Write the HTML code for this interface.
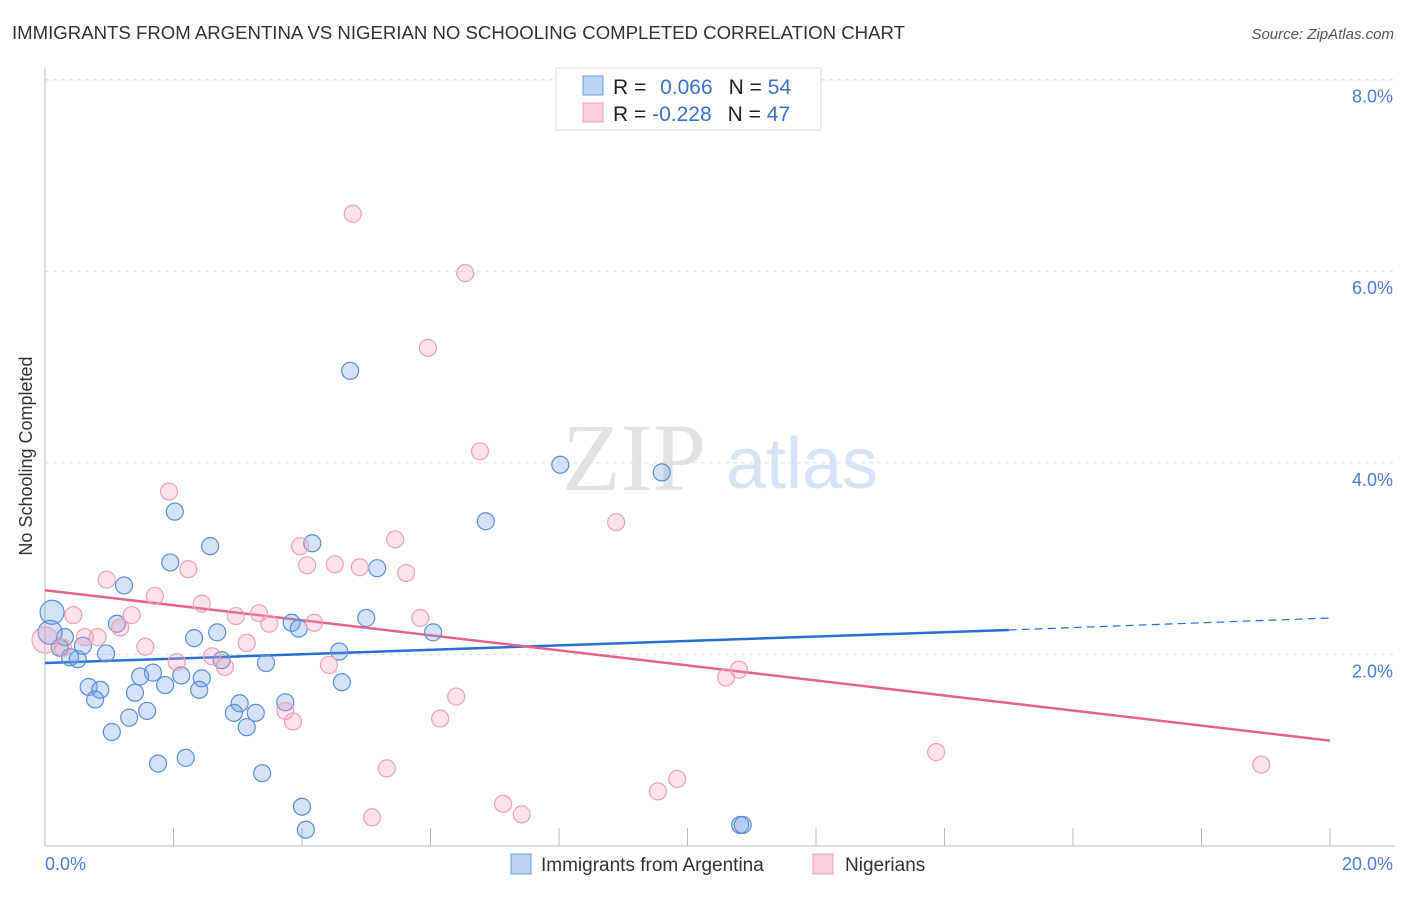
<!DOCTYPE html>
<html><head><meta charset="utf-8"><style>
body{margin:0;background:#fff;font-family:"Liberation Sans",sans-serif}
</style></head><body>
<svg width="1406" height="892" xmlns="http://www.w3.org/2000/svg" font-family="Liberation Sans, sans-serif">
<text x="12" y="39" font-size="18.6" fill="#333">IMMIGRANTS FROM ARGENTINA VS NIGERIAN NO SCHOOLING COMPLETED CORRELATION CHART</text>
<text x="1394" y="39" font-size="15" fill="#555" font-style="italic" text-anchor="end">Source: ZipAtlas.com</text>
<g>
<text x="634" y="490" font-size="96" fill="#e2e2e2" font-family="Liberation Serif, serif" text-anchor="middle">ZIP</text>
<text x="802" y="488" font-size="72" fill="#d6e4f5" text-anchor="middle">atlas</text>
</g>
<g id="grid"></g>
<g id="axes"></g>
<g id="lines"></g>
<g id="pts"></g>
<text x="32" y="456" font-size="18" fill="#333" text-anchor="middle" transform="rotate(-90 32 456)">No Schooling Completed</text>
<text x="45" y="870" font-size="18" fill="#4a7fd4">0.0%</text>
<text x="1393" y="870" font-size="18" fill="#4a7fd4" text-anchor="end">20.0%</text>
<g>
<rect x="556" y="68" width="265" height="62" fill="#fff" stroke="#ddd"/>
<rect x="583" y="76" width="20" height="19" fill="#bcd4f5" stroke="#6e9ce0"/>
<rect x="583" y="103" width="20" height="19" fill="#fbd0dc" stroke="#eea0b8"/>
<text x="613" y="94" font-size="21" fill="#222">R = <tspan fill="#3a72d0" dx="8">0.066</tspan><tspan dx="16" fill="#222">N = </tspan><tspan fill="#3a72d0">54</tspan></text>
<text x="613" y="121" font-size="21" fill="#222">R = <tspan fill="#3a72d0">-0.228</tspan><tspan dx="16" fill="#222">N = </tspan><tspan fill="#3a72d0">47</tspan></text>
</g>
<g>
<rect x="511" y="854" width="20" height="20" fill="#bcd4f5" stroke="#6e9ce0"/>
<text x="541" y="871" font-size="19" fill="#333">Immigrants from Argentina</text>
<rect x="813" y="854" width="20" height="20" fill="#fbd0dc" stroke="#eea0b8"/>
<text x="845" y="871" font-size="19" fill="#333">Nigerians</text>
</g>
</svg>
<script>
const yTicks=[2,4,6,8];
const yTickLabels=["2.0%","4.0%","6.0%","8.0%"];
const xTickVals=[0,2,4,6,8,10,12,14,16,18,20];
const blueX=[0.11,0.08,0.31,0.23,0.39,0.51,0.59,0.95,0.68,0.86,0.78,1.04,1.23,1.12,1.40,1.31,1.48,1.68,1.59,1.87,1.76,2.19,2.02,1.95,2.57,2.32,2.44,2.40,2.12,2.68,2.75,3.03,2.94,3.14,3.28,3.38,3.44,3.74,3.84,3.95,4.16,4.00,4.06,4.58,4.62,4.75,5.00,5.17,6.04,6.86,8.02,9.60,10.82,10.86];
const blueY=[2.44,2.23,2.18,2.07,1.97,1.95,2.09,2.01,1.66,1.63,1.53,1.19,2.72,2.32,1.60,1.34,1.77,1.81,1.41,1.68,0.86,0.92,3.49,2.96,3.13,2.17,1.75,1.63,1.78,2.23,1.94,1.49,1.39,1.24,1.39,0.76,1.91,1.50,2.33,2.27,3.16,0.41,0.17,2.03,1.71,4.96,2.38,2.90,2.23,3.39,3.98,3.90,0.22,0.22];
const pinkX=[0.0,0.44,0.28,0.62,0.82,0.96,1.17,1.35,1.56,1.71,1.93,2.05,2.23,2.44,2.60,2.80,2.97,3.14,3.33,3.49,3.74,3.86,3.97,4.08,4.19,4.42,4.51,4.79,4.90,5.09,5.32,5.45,5.62,5.84,5.96,6.15,6.40,6.54,6.77,7.13,7.42,8.89,9.54,9.84,10.60,10.80,13.87,18.93];
const pinkY=[2.15,2.41,2.07,2.18,2.18,2.78,2.28,2.41,2.08,2.61,3.70,1.92,2.89,2.53,1.98,1.87,2.40,2.12,2.43,2.32,1.41,1.30,3.13,2.93,2.33,1.89,2.94,6.60,2.91,0.30,0.81,3.20,2.85,2.38,5.20,1.33,1.56,5.98,4.12,0.44,0.33,3.38,0.57,0.70,1.76,1.84,0.98,0.85];
const blueTrend=[1.91,2.255,2.38];
const pinkTrend=[2.67,1.10];
const NS="http://www.w3.org/2000/svg";
const X=v=>45+v*64.25, Y=v=>846-v*95.8;
function mk(p,t,a){const e=document.createElementNS(NS,t);for(const k in a)e.setAttribute(k,a[k]);document.getElementById(p).appendChild(e);return e;}
yTicks.forEach((t,i)=>{
 const g=mk('grid','line',{x1:45,x2:1395,y1:Y(t),y2:Y(t),stroke:'#ddd','stroke-dasharray':'4,4'});
 
 
 const l=mk('grid','text',{x:1393,y:Y(t)+23,'font-size':18,fill:'#4a7fd4','text-anchor':'end'});
 l.textContent=yTickLabels[i];
 
 
});
const topGrid=mk('grid','line',{x1:45,x2:1395,y1:80,y2:80,stroke:'#ddd','stroke-dasharray':'4,4'});


const ya=mk('axes','line',{x1:45,x2:45,y1:68,y2:846,stroke:'#bbb'});


const xa=mk('axes','line',{x1:45,x2:1395,y1:846,y2:846,stroke:'#bbb'});


xTickVals.forEach(v=>{const t=mk('axes','line',{x1:X(v),x2:X(v),y1:828,y2:846,stroke:'#bbb'});
 
 });
function dot(x,y,r,fill,stroke,name){const c=mk('pts','circle',{cx:X(x),cy:Y(y),r:r,fill:fill,stroke:stroke,'stroke-width':1.2});
 
 }
blueX.forEach((x,i)=>dot(x,blueY[i],i<2?12:8.5,'rgba(110,160,230,0.3)','#5b8fd9','point-argentina'));
pinkX.forEach((x,i)=>dot(x,pinkY[i],i<1?13:8.5,'rgba(245,150,180,0.28)','#eea0b8','point-nigerians'));
const bl=mk('lines','line',{x1:X(0),y1:Y(blueTrend[0]),x2:X(15),y2:Y(blueTrend[1]),stroke:'#2a6fd6','stroke-width':2.5});


const bd=mk('lines','line',{x1:X(15),y1:Y(blueTrend[1]),x2:X(20),y2:Y(blueTrend[2]),stroke:'#2a6fd6','stroke-width':1.2,'stroke-dasharray':'8,5'});


const pl=mk('lines','line',{x1:X(0),y1:Y(pinkTrend[0]),x2:X(20),y2:Y(pinkTrend[1]),stroke:'#e8628f','stroke-width':2.5});


</script>
</body></html>
